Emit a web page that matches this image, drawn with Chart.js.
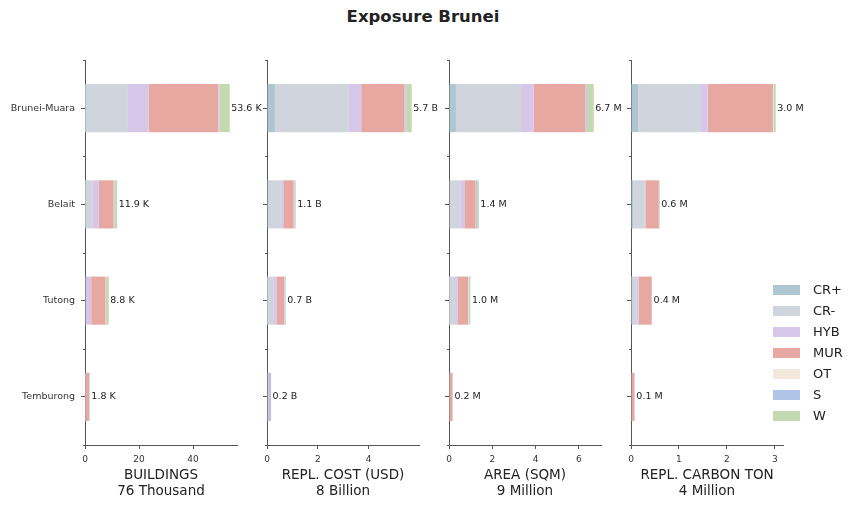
<!DOCTYPE html>
<html>
<head>
<meta charset="utf-8">
<script src="https://cdn.jsdelivr.net/npm/chart.js@4/dist/chart.umd.min.js"></script>
<style>
body { margin: 0; background: #fff; font-family: "DejaVu Sans", sans-serif; }
#wrap { position: relative; width: 859px; height: 510px; overflow: hidden; }
canvas { position: absolute; left: 0; top: 0; }
#title { position: absolute; left: 0; top: 7px; width: 846px; text-align: center; font-weight: bold; font-size: 16.5px; color: #222; }
#legend { position: absolute; left: 773px; top: 279px; }
.item { height: 21px; display: flex; align-items: center; font-size: 13px; color: #222; }
.box { width: 27px; height: 10px; margin-right: 13px; }
</style>
</head>
<body>
<div id="wrap">
  <div id="title">Exposure Brunei</div>
  <canvas id="c0" width="859" height="510"></canvas>
  <canvas id="c1" width="859" height="510"></canvas>
  <canvas id="c2" width="859" height="510"></canvas>
  <canvas id="c3" width="859" height="510"></canvas>
  <div id="legend"></div>
</div>
<script>
let districts = ['Brunei-Muara', 'Belait', 'Tutong', 'Temburong'];
let classes = ['CR+', 'CR-', 'HYB', 'MUR', 'OT', 'S', 'W'];
let colors = ['#adc6cf', '#d0d4dc', '#d6c6e8', '#e8a8a2', '#f3e8dc', '#b0c4e8', '#c4d9b0'];

// one row per class, one value per district
let buildings = [   // thousand
    [0.1, 0.1, 0.0, 0.0],
    [15.8, 2.6, 0.3, 0.1],
    [7.6, 2.4, 2.0, 0.2],
    [25.9, 5.5, 5.3, 1.2],
    [0.1, 0.1, 0.1, 0.0],
    [0.3, 0.2, 0.1, 0.1],
    [3.8, 1.0, 1.0, 0.2]
];
let replCost = [    // billion USD
    [0.31, 0.04, 0.01, 0.0],
    [2.91, 0.52, 0.26, 0.02],
    [0.49, 0.11, 0.12, 0.01],
    [1.71, 0.38, 0.28, 0.03],
    [0.02, 0.01, 0.01, 0.0],
    [0.05, 0.02, 0.05, 0.10],
    [0.21, 0.05, 0.01, 0.0]
];
let area = [        // million sqm
    [0.32, 0.03, 0.01, 0.0],
    [3.01, 0.52, 0.27, 0.02],
    [0.59, 0.19, 0.13, 0.01],
    [2.39, 0.49, 0.47, 0.13],
    [0.01, 0.01, 0.01, 0.0],
    [0.05, 0.05, 0.01, 0.01],
    [0.32, 0.09, 0.09, 0.01]
];
let carbon = [      // million ton
    [0.15, 0.04, 0.01, 0.0],
    [1.31, 0.25, 0.11, 0.01],
    [0.14, 0.01, 0.04, 0.0],
    [1.36, 0.28, 0.27, 0.06],
    [0.01, 0.0, 0.0, 0.0],
    [0.01, 0.01, 0.0, 0.005],
    [0.04, 0.01, 0.01, 0.005]
];

let axisTitles = [
    ['BUILDINGS', '76 Thousand'],
    ['REPL. COST (USD)', '8 Billion'],
    ['AREA (SQM)', '9 Million'],
    ['REPL. CARBON TON', '4 Million']
];
let units = ['K', 'B', 'M', 'M'];
let steps = [20, 2, 2, 1];

Chart.defaults.font.family = '"DejaVu Sans", sans-serif';

let plotLeft = [85, 267, 449, 631];
let plotRight = [237, 419, 601, 783];

function totals(values) {
    let t = [];
    for (let i = 0; i < districts.length; i++) {
        let s = 0;
        for (let k = 0; k < values.length; k++) s += values[k][i];
        t.push(s);
    }
    return t;
}

let barLabels = {
    id: 'barLabels',
    afterDatasetsDraw(chart, args, opts) {
        let ctx = chart.ctx;
        let xs = chart.scales.x, ys = chart.scales.y;
        ctx.save();
        ctx.font = '9.5px "DejaVu Sans"';
        ctx.fillStyle = '#222';
        ctx.textBaseline = 'middle';
        ctx.textAlign = 'left';
        opts.totals.forEach(function (t, i) {
            ctx.fillText(t.toFixed(1) + ' ' + opts.unit, xs.getPixelForValue(t) + 1.5, ys.getPixelForValue(i));
        });
        // minor ticks between categories
        ctx.strokeStyle = '#555';
        ctx.lineWidth = 1;
        let half = (ys.getPixelForValue(1) - ys.getPixelForValue(0)) / 2;
        for (let i = 0; i <= districts.length; i++) {
            let y = Math.round(ys.getPixelForValue(i) - half) + 0.5;
            ctx.beginPath();
            ctx.moveTo(xs.left - 2, y);
            ctx.lineTo(xs.left, y);
            ctx.stroke();
        }
        ctx.restore();
    }
};

function makeChart(n, values) {
    let t = totals(values);
    let xmax = Math.max.apply(null, t) * 1.05;
    let step = steps[n];
    let yw = n === 0 ? 85 : 10;

    let datasets = classes.map(function (c, k) {
        return {
            label: c,
            data: values[k],
            backgroundColor: colors[k],
            borderWidth: 0,
            barPercentage: 0.5,
            categoryPercentage: 1
        };
    });

    new Chart(document.getElementById('c' + n), {
        type: 'bar',
        data: { labels: districts, datasets: datasets },
        options: {
            indexAxis: 'y',
            responsive: false,
            animation: false,
            layout: { padding: { left: plotLeft[n] - yw, right: 859 - plotRight[n], top: 60, bottom: 0 } },
            plugins: {
                legend: { display: false },
                tooltip: { enabled: false },
                barLabels: { totals: t, unit: units[n] }
            },
            scales: {
                x: {
                    stacked: true,
                    min: 0,
                    max: xmax,
                    ticks: { autoSkip: false, font: { size: 9 }, color: '#333', padding: 5, maxRotation: 0 },
                    grid: { drawOnChartArea: false, tickLength: 4, color: '#555' },
                    border: { color: '#555' },
                    title: { display: true, text: axisTitles[n], font: { size: 13.5 }, color: '#222', padding: { top: 0, bottom: 10 } },
                    afterBuildTicks: function (s) {
                        let tk = [];
                        for (let v = 0; v <= xmax + 1e-9; v += step) tk.push({ value: v });
                        s.ticks = tk;
                    },
                    afterFit: function (s) { s.height = 65; }
                },
                y: {
                    stacked: true,
                    offset: true,
                    ticks: { display: n === 0, font: { size: 9.5 }, color: '#333', padding: 6 },
                    grid: { drawOnChartArea: false, tickLength: 4, color: '#555', offset: false },
                    border: { color: '#555' },
                    afterFit: function (s) { s.width = yw; }
                }
            }
        },
        plugins: [barLabels]
    });
}

makeChart(0, buildings);
makeChart(1, replCost);
makeChart(2, area);
makeChart(3, carbon);

let legend = document.getElementById('legend');
classes.forEach(function (c, k) {
    let row = document.createElement('div');
    row.className = 'item';
    row.innerHTML = '<div class="box" style="background:' + colors[k] + '"></div>' + c;
    legend.appendChild(row);
});
</script>
</body>
</html>
